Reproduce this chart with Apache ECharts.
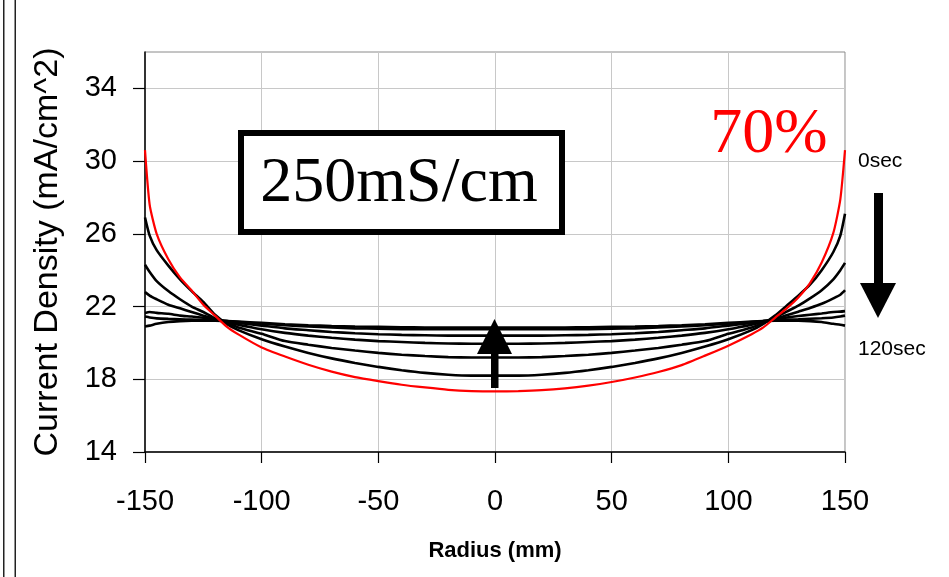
<!DOCTYPE html>
<html>
<head>
<meta charset="utf-8">
<script src="https://cdn.jsdelivr.net/npm/echarts@6/dist/echarts.min.js"></script>
<style>
  html, body { margin: 0; padding: 0; background: #ffffff; }
  #chart { width: 949px; height: 577px; }
</style>
</head>
<body>
<div id="chart"></div>
<script>
// Radial positions (mm) at which the current density profiles are sampled
const radius = [-150, -148, -145, -140, -135, -130, -125, -120, -115, -110, -100, -90, -80, -70, -60, -50, -40, -30, -20, -10,
  0, 10, 20, 30, 40, 50, 60, 70, 80, 90, 100, 110, 115, 120, 125, 130, 135, 140, 145, 148, 150];

// Current density (mA/cm^2) profiles, 0 s to 120 s
const t0sec = [30.6, 27.6, 26.0, 24.6, 23.6, 22.88, 22.1, 21.5, 20.9, 20.47, 19.75, 19.25, 18.8, 18.42, 18.12, 17.9, 17.7, 17.55, 17.42, 17.35,
  17.33, 17.35, 17.4, 17.5, 17.65, 17.85, 18.1, 18.4, 18.78, 19.3, 19.85, 20.48, 20.85, 21.38, 21.9, 22.5, 23.29, 24.42, 26.05, 27.9, 30.6];
const t20sec = [26.9, 25.9, 25.1, 24.25, 23.5, 22.85, 22.25, 21.55, 21.05, 20.7, 20.2, 19.8, 19.45, 19.15, 18.9, 18.68, 18.5, 18.35, 18.25, 18.2,
  18.2, 18.2, 18.25, 18.35, 18.5, 18.68, 18.9, 19.15, 19.45, 19.8, 20.2, 20.7, 21.05, 21.5, 22.05, 22.6, 23.2, 24.0, 25.0, 25.9, 27.1];
const t40sec = [24.3, 23.9, 23.4, 22.85, 22.4, 22.0, 21.7, 21.35, 21.1, 20.85, 20.5, 20.1, 19.9, 19.72, 19.58, 19.45, 19.35, 19.28, 19.22, 19.2,
  19.2, 19.2, 19.22, 19.28, 19.35, 19.45, 19.58, 19.72, 19.9, 20.1, 20.5, 20.85, 21.1, 21.38, 21.72, 22.05, 22.45, 22.9, 23.5, 24.0, 24.4];
const t60sec = [22.8, 22.6, 22.4, 22.1, 21.9, 21.7, 21.5, 21.3, 21.15, 21.0, 20.75, 20.55, 20.4, 20.28, 20.18, 20.1, 20.05, 20.0, 19.97, 19.95,
  19.95, 19.95, 19.97, 20.0, 20.05, 20.1, 20.18, 20.28, 20.4, 20.55, 20.75, 21.0, 21.15, 21.32, 21.52, 21.72, 21.92, 22.15, 22.45, 22.65, 22.9];
const t80sec = [21.65, 21.7, 21.65, 21.6, 21.5, 21.45, 21.38, 21.28, 21.2, 21.1, 20.95, 20.8, 20.7, 20.6, 20.53, 20.48, 20.44, 20.42, 20.4, 20.4,
  20.4, 20.4, 20.4, 20.42, 20.44, 20.48, 20.53, 20.6, 20.7, 20.8, 20.95, 21.1, 21.2, 21.3, 21.4, 21.48, 21.55, 21.62, 21.7, 21.72, 21.75];
const t100sec = [21.45, 21.4, 21.35, 21.32, 21.3, 21.28, 21.26, 21.24, 21.2, 21.15, 21.05, 20.97, 20.9, 20.85, 20.8, 20.78, 20.76, 20.75, 20.75, 20.75,
  20.75, 20.75, 20.75, 20.75, 20.76, 20.78, 20.8, 20.85, 20.9, 20.97, 21.05, 21.15, 21.2, 21.25, 21.28, 21.3, 21.33, 21.36, 21.4, 21.45, 21.5];
const t120sec = [20.9, 20.95, 21.05, 21.15, 21.2, 21.22, 21.22, 21.22, 21.2, 21.17, 21.1, 21.03, 20.97, 20.93, 20.9, 20.88, 20.86, 20.85, 20.85, 20.85,
  20.85, 20.85, 20.85, 20.85, 20.86, 20.88, 20.9, 20.93, 20.97, 21.03, 21.1, 21.17, 21.2, 21.22, 21.22, 21.22, 21.2, 21.15, 21.05, 21.0, 20.95];

// Axis tick values
const yTicks = [14, 18, 22, 26, 30, 34];
const xTicks = [-150, -100, -50, 0, 50, 100, 150];

const blackProfiles = [t20sec, t40sec, t60sec, t80sec, t100sec, t120sec];

const toPairs = (vals) => radius.map((r, i) => [r, vals[i]]);

const chart = echarts.init(document.getElementById('chart'), null, { renderer: 'canvas' });

const sans = 'Liberation Sans, Arial, sans-serif';
const serif = 'Liberation Serif, Times New Roman, serif';

const series = blackProfiles.map((vals) => ({
  type: 'line',
  data: toPairs(vals),
  showSymbol: false,
  symbol: 'none',
  smooth: 0.2,
  lineStyle: { color: '#000000', width: 2.6 },
  z: 3
}));
series.push({
  type: 'line',
  data: toPairs(t0sec),
  showSymbol: false,
  symbol: 'none',
  smooth: 0.2,
  lineStyle: { color: '#ff0000', width: 2.2 },
  z: 4
});

chart.setOption({
  animation: false,
  backgroundColor: '#ffffff',
  grid: {
    left: 145, right: 104, top: 52, bottom: 125,
    show: true, borderColor: '#8a8a8a', borderWidth: 1, backgroundColor: 'transparent'
  },
  xAxis: {
    type: 'value',
    min: xTicks[0], max: xTicks[xTicks.length - 1], interval: 50,
    name: 'Radius (mm)',
    nameLocation: 'middle',
    nameGap: 88,
    nameTextStyle: { fontFamily: sans, fontSize: 22, fontWeight: 'bold', color: '#000' },
    axisLine: { show: true, onZero: false, lineStyle: { color: '#000', width: 1.5 } },
    axisTick: { show: true, inside: false, length: 11, lineStyle: { color: '#000', width: 1.2 } },
    axisLabel: { fontFamily: sans, fontSize: 29, color: '#000', margin: 35 },
    splitLine: { show: true, lineStyle: { color: '#c8c8c8', width: 1 } }
  },
  yAxis: {
    type: 'value',
    min: 14, max: 36, interval: 4,
    name: 'Current Density (mA/cm^2)',
    nameLocation: 'middle',
    nameGap: 80,
    nameRotate: 90,
    nameTextStyle: { fontFamily: sans, fontSize: 34, color: '#000' },
    axisLine: { show: true, onZero: false, lineStyle: { color: '#000', width: 1.5 } },
    axisTick: { show: true, inside: false, length: 12, customValues: yTicks, lineStyle: { color: '#000', width: 1.2 } },
    axisLabel: { fontFamily: sans, fontSize: 29, color: '#000', margin: 28, customValues: yTicks },
    splitLine: { show: true, lineStyle: { color: '#c8c8c8', width: 1 } }
  },
  series: series,
  graphic: [
    // page frame lines on the left edge
    { type: 'rect', shape: { x: 3, y: 0, width: 1.5, height: 577 }, style: { fill: '#222' }, z: 10 },
    { type: 'rect', shape: { x: 14.5, y: 0, width: 1.5, height: 577 }, style: { fill: '#222' }, z: 10 },
    // conductivity label box
    { type: 'rect', shape: { x: 241, y: 133, width: 321, height: 99 },
      style: { fill: '#ffffff', stroke: '#000000', lineWidth: 6 }, z: 20 },
    { type: 'text', x: 399, y: 184, z: 21,
      style: { text: '250mS/cm', font: '64px ' + serif, fill: '#000', align: 'center', verticalAlign: 'middle' } },
    // percentage label
    { type: 'text', x: 769, y: 135, z: 21,
      style: { text: '70%', font: '64px ' + serif, fill: '#ff0000', align: 'center', verticalAlign: 'middle' } },
    // time labels
    { type: 'text', x: 858, y: 161, z: 21,
      style: { text: '0sec', font: '21px ' + sans, fill: '#000', align: 'left', verticalAlign: 'middle' } },
    { type: 'text', x: 858, y: 349, z: 21,
      style: { text: '120sec', font: '21px ' + sans, fill: '#000', align: 'left', verticalAlign: 'middle' } },
    // time direction arrow (down)
    { type: 'rect', shape: { x: 874, y: 193, width: 9, height: 92 }, style: { fill: '#000' }, z: 21 },
    { type: 'polygon', shape: { points: [[860, 283], [896, 283], [878, 318]] }, style: { fill: '#000' }, z: 21 },
    // uniformity arrow at the centre (up)
    { type: 'rect', shape: { x: 491, y: 352, width: 7.5, height: 36 }, style: { fill: '#000' }, z: 21 },
    { type: 'polygon', shape: { points: [[477, 354], [512, 354], [494.5, 319]] }, style: { fill: '#000' }, z: 21 }
  ]
});
</script>
</body>
</html>
